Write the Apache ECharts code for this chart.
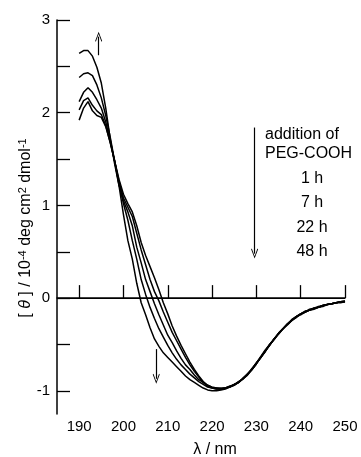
<!DOCTYPE html>
<html>
<head>
<meta charset="utf-8">
<script src="https://cdn.jsdelivr.net/npm/echarts@6/dist/echarts.min.js"></script>
<style>
html,body{margin:0;padding:0;background:#fff;}
#chart{width:361px;height:457px;}
</style>
</head>
<body>
<div id="chart"></div>
<script>
// wavelengths (nm)
var wavelengths = [190,191,192,193,194,195,196,197,198,199,200,201,202,203,204,205,206,207,208,209,210,211,212,213,214,215,216,217,218,219,220,221,222,223,224,225,226,227,228,229,230,231,232,233,234,235,236,237,238,239,240,241,242,243,244,245,246,247,248,249,250];
// [theta] / 10^-4 deg cm2 dmol-1
var curve0h = [1.92,2.05,2.12,2.02,1.97,1.95,1.85,1.68,1.48,1.28,1.12,1.02,0.93,0.78,0.60,0.46,0.34,0.22,0.09,-0.05,-0.17,-0.30,-0.41,-0.51,-0.60,-0.69,-0.77,-0.84,-0.90,-0.94,-0.96,-0.97,-0.97,-0.97,-0.96,-0.93,-0.91,-0.87,-0.82,-0.77,-0.70,-0.64,-0.57,-0.51,-0.44,-0.39,-0.33,-0.28,-0.24,-0.20,-0.18,-0.15,-0.13,-0.11,-0.10,-0.08,-0.07,-0.06,-0.05,-0.05,-0.04];
var curve1h = [2.03,2.13,2.16,2.08,2.02,1.98,1.86,1.68,1.48,1.26,1.08,0.98,0.88,0.70,0.52,0.36,0.20,0.07,-0.03,-0.15,-0.26,-0.37,-0.46,-0.55,-0.64,-0.72,-0.79,-0.85,-0.91,-0.94,-0.96,-0.97,-0.98,-0.97,-0.95,-0.94,-0.90,-0.87,-0.83,-0.77,-0.71,-0.64,-0.58,-0.50,-0.45,-0.38,-0.33,-0.28,-0.24,-0.21,-0.17,-0.15,-0.13,-0.12,-0.10,-0.09,-0.07,-0.06,-0.05,-0.04,-0.03];
var curve7h = [2.12,2.22,2.27,2.22,2.14,2.05,1.90,1.70,1.48,1.22,1.05,0.93,0.78,0.55,0.38,0.20,0.07,-0.06,-0.18,-0.29,-0.40,-0.48,-0.57,-0.65,-0.72,-0.77,-0.83,-0.88,-0.91,-0.95,-0.97,-0.98,-0.98,-0.97,-0.96,-0.93,-0.91,-0.86,-0.82,-0.77,-0.71,-0.64,-0.57,-0.51,-0.44,-0.38,-0.33,-0.28,-0.23,-0.20,-0.17,-0.14,-0.13,-0.11,-0.10,-0.08,-0.07,-0.06,-0.05,-0.04,-0.04];
var curve22h = [2.38,2.42,2.43,2.40,2.30,2.16,1.97,1.74,1.48,1.23,1.02,0.84,0.62,0.42,0.20,0.04,-0.10,-0.22,-0.33,-0.42,-0.51,-0.59,-0.66,-0.72,-0.77,-0.82,-0.86,-0.90,-0.93,-0.96,-0.97,-0.98,-0.98,-0.97,-0.95,-0.93,-0.90,-0.87,-0.82,-0.76,-0.70,-0.63,-0.56,-0.50,-0.44,-0.38,-0.33,-0.29,-0.24,-0.20,-0.17,-0.15,-0.12,-0.11,-0.09,-0.08,-0.07,-0.06,-0.05,-0.04,-0.04];
var curve48h = [2.64,2.67,2.67,2.61,2.49,2.32,2.05,1.72,1.45,1.21,0.90,0.62,0.42,0.16,-0.05,-0.18,-0.32,-0.44,-0.52,-0.59,-0.64,-0.69,-0.74,-0.79,-0.84,-0.88,-0.91,-0.94,-0.97,-0.99,-1.00,-1.00,-0.99,-0.98,-0.96,-0.94,-0.91,-0.87,-0.82,-0.77,-0.70,-0.64,-0.57,-0.50,-0.44,-0.38,-0.33,-0.28,-0.24,-0.20,-0.17,-0.15,-0.13,-0.11,-0.10,-0.08,-0.07,-0.06,-0.05,-0.04,-0.03];
var seriesNames = ['0 h','1 h','7 h','22 h','48 h'];
var xTicks = [190,200,210,220,230,240,250];
var yTicks = [-1,-0.5,0,0.5,1,1.5,2,2.5,3];
var yLabels = [-1,0,1,2,3];
var legendTitle = ['addition of','PEG-COOH'];
var legendTimes = ['1 h','7 h','22 h','48 h'];
// arrows in data coordinates [start, end]
var arrowUp = [[194.4, 2.62],[194.4, 2.82]];
var arrowDown1 = [[207.4, -0.55],[207.4, -0.87]];
var arrowDown2 = [[229.6, 1.84],[229.6, 0.48]];

var FONT = '"Liberation Sans", Arial, Helvetica, sans-serif';
var arrowPath = 'path://M0,0 L5,9 L4,9.6 L0,2.2 L-4,9.6 L-5,9 Z';

function pairs(ys){ return wavelengths.map(function(x,i){ return [x, ys[i]]; }); }
function arrowItem(a){
  return [{coord:a[0], symbol:'none'}, {coord:a[1], symbol:arrowPath, symbolSize:[7,10]}];
}

var curves = [curve0h, curve1h, curve7h, curve22h, curve48h];
var series = curves.map(function(c, i){
  var s = {
    name: seriesNames[i], type:'line', data: pairs(c), showSymbol:false, symbol:'none',
    lineStyle:{color:'#000', width:1.5}, silent:true, z: 3
  };
  if(i === 0){
    s.markLine = {
      silent:true, symbol:['none','none'], animation:false,
      label:{show:false},
      lineStyle:{color:'#000', width:1.2, type:'solid'},
      emphasis:{disabled:true},
      data:[
        {yAxis:0, symbol:'none'},
        arrowItem(arrowUp), arrowItem(arrowDown1), arrowItem(arrowDown2)
      ]
    };
  }
  return s;
});

var chart = echarts.init(document.getElementById('chart'), null, {renderer:'canvas'});
var graphics = [];
graphics.push({type:'text', x:265, y:135, style:{text:legendTitle[0], font:'16px '+FONT, fill:'#000', textVerticalAlign:'middle'}});
graphics.push({type:'text', x:265, y:153.5, style:{text:legendTitle[1], font:'16px '+FONT, fill:'#000', textVerticalAlign:'middle'}});
var timeY = [178.5, 203, 227.5, 251.5];
legendTimes.forEach(function(t, i){
  graphics.push({type:'text', x:312, y:timeY[i], style:{text:t, font:'16px '+FONT, fill:'#000', textAlign:'center', textVerticalAlign:'middle'}});
});
graphics.push({type:'text', x:215, y:450, style:{text:'λ / nm', font:'16px '+FONT, fill:'#000', textAlign:'center', textVerticalAlign:'middle'}});
graphics.push({type:'text', x:26, y:228, rotation:Math.PI/2, style:{
  text:'[ {it|θ} ] / 10{sup|-4} deg cm{sup|2} dmol{sup|-1}',
  font:'16px '+FONT, fill:'#000', textAlign:'center', textVerticalAlign:'middle',
  rich:{
    it:{fontStyle:'italic', fontSize:16, fontFamily:FONT},
    sup:{fontSize:11, fontFamily:FONT, verticalAlign:'bottom', padding:[0,0,6,0]}
  }
}});

chart.setOption({
  animation:false,
  backgroundColor:'#fff',
  grid:{left:57, top:20, width:288, height:394, containLabel:false},
  xAxis:{
    type:'value', min:185, max:250,
    axisLine:{show:true, lineStyle:{color:'#000', width:1.5}},
    axisTick:{show:true, inside:true, length:13, customValues:xTicks, lineStyle:{color:'#000', width:1.3}},
    axisLabel:{customValues:xTicks, color:'#000', fontSize:15, fontFamily:FONT, margin:5},
    splitLine:{show:false}
  },
  yAxis:{
    type:'value', min:-1.25, max:3,
    axisLine:{show:true, onZero:false, lineStyle:{color:'#000', width:1.5}},
    axisTick:{show:true, inside:true, length:13, customValues:yTicks, lineStyle:{color:'#000', width:1.3}},
    axisLabel:{customValues:yLabels, color:'#000', fontSize:15, fontFamily:FONT, margin:7},
    splitLine:{show:false}
  },
  graphic: graphics,
  series: series
});
</script>
</body>
</html>
